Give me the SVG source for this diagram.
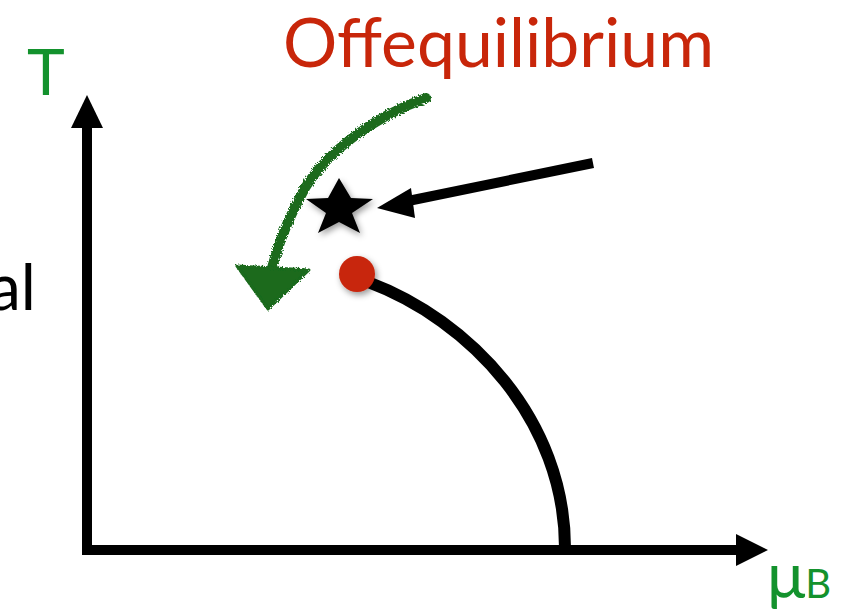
<svg xmlns="http://www.w3.org/2000/svg" width="867" height="611" viewBox="0 0 867 611">
  <style>
    .lbl { font-family: "Lato", "Open Sans", "Liberation Sans", sans-serif; }
    .green { fill: #13922d; }
    .axis { stroke: #000; stroke-width: 10; fill: none; }
  </style>
  <defs>
    <filter id="shadow" x="-50%" y="-50%" width="200%" height="200%">
      <feDropShadow dx="2" dy="3" stdDeviation="3" flood-color="#000" flood-opacity="0.4"/>
    </filter>
    <filter id="rough" x="-20%" y="-20%" width="140%" height="140%">
      <feTurbulence type="fractalNoise" baseFrequency="0.6" numOctaves="2" seed="3" result="n"/>
      <feDisplacementMap in="SourceGraphic" in2="n" scale="4"/>
    </filter>
  </defs>
  <rect width="867" height="611" fill="#fff"/>

  <g id="axes">
    <line class="axis" x1="87" y1="555" x2="87" y2="126"/>
    <polygon points="87,95 103,128 71,128" fill="#000"/>
    <line class="axis" x1="82" y1="550" x2="738" y2="550"/>
    <polygon points="768,550 736,534 736,566" fill="#000"/>
  </g>

  <g id="label-T"><text class="lbl green" x="27" y="95" font-size="64">T</text></g>
  <g id="label-mu"><text class="lbl green" x="767" y="598" font-size="64">μ<tspan font-size="40">B</tspan></text></g>
  <g id="label-al"><text class="lbl" x="-11" y="310" font-size="64" fill="#000">al</text></g>
  <g id="label-offeq"><text class="lbl" x="283" y="67" font-size="68" fill="#c8260a" textLength="431" lengthAdjust="spacingAndGlyphs">Offequilibrium</text></g>

  <g id="connectors">
    <path d="M368,282 C470,320 565,420 565,548" stroke="#000" stroke-width="12" fill="none"/>
    <line x1="593" y1="163" x2="408" y2="201" stroke="#000" stroke-width="10"/>
    <polygon points="377,208 411,188 415,218" fill="#000"/>
    <g filter="url(#rough)">
      <path d="M426,98 C370,118 325,155 305,188 C288,218 278,245 272,268" stroke="#1a6b1f" stroke-width="10" fill="none" stroke-linecap="round"/>
      <polygon points="237,266 309,270 268,309" fill="#1a6b1f" stroke="#1a6b1f" stroke-width="3" stroke-linejoin="round"/>
    </g>
  </g>

  <g id="star">
    <polygon fill="#000" filter="url(#shadow)" points="339,178 351,198 373,199 352,213 360,233 339,222 318,233 326,213 306,199 328,198"/>
  </g>
  <g id="critical-point">
    <circle cx="357" cy="274" r="18" fill="#c8260a" filter="url(#shadow)"/>
  </g>
</svg>
